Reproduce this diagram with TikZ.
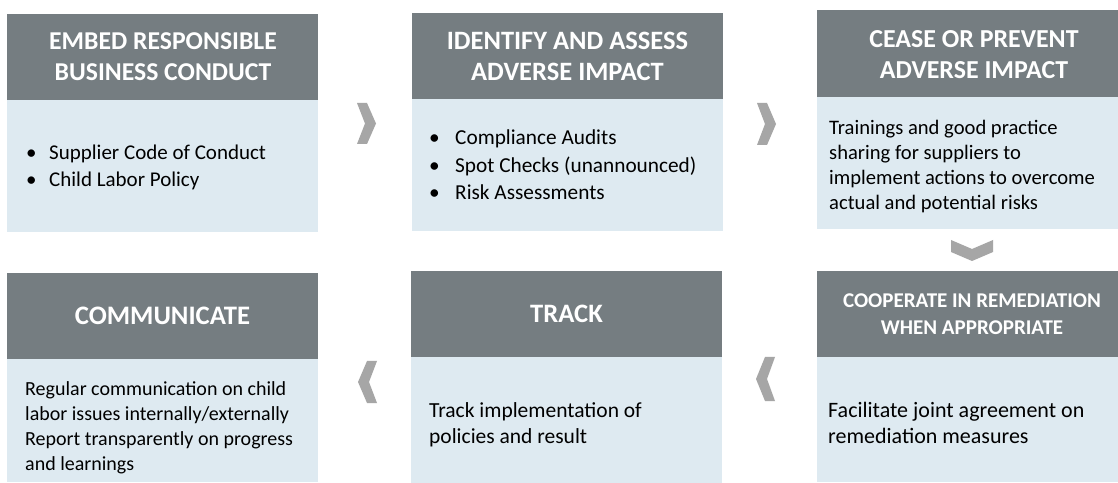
\documentclass[tikz,border=0pt]{standalone}
\usepackage{fontspec}
\setmainfont{Carlito}
\definecolor{hdrgray}{RGB}{117,125,129}
\definecolor{bodyblue}{RGB}{222,234,241}
\definecolor{chevgray}{RGB}{166,166,166}
\begin{document}
\begin{tikzpicture}[x=1bp,y=-1bp,
  hdr/.style={fill=hdrgray, draw=none, inner sep=0, outer sep=0, anchor=north west, minimum height=86bp},
  body/.style={fill=bodyblue, draw=none, inner sep=0, outer sep=0, anchor=north west},
  htext/.style={text=white, font=\bfseries\fontsize{#1}{31bp}\selectfont, align=center, inner sep=0},
  htext/.default=25.7bp,
  htextsmall/.style={text=white, font=\bfseries\fontsize{21bp}{27.3bp}\selectfont, align=center, inner sep=0},
  btext/.style={text=black, align=left, inner sep=0, anchor=base west},
  chev/.style={fill=chevgray, draw=none}]
\useasboundingbox (0,0) rectangle (1118,483);
\fill[white] (0,0) rectangle (1118,483);

% top row
\node[hdr, minimum width=311bp] (h1) at (7,14) {};
\node[body, minimum width=311bp, minimum height=132bp] (b1) at (7,100) {};
\node[hdr, minimum width=311bp] (h2) at (412,13) {};
\node[body, minimum width=311bp, minimum height=132bp] (b2) at (412,99) {};
\node[hdr, minimum width=301bp, minimum height=87bp] (h3) at (817,10) {};
\node[body, minimum width=301bp, minimum height=132bp] (b3) at (817,97) {};

% bottom row
\node[hdr, minimum width=311bp] (h4) at (7,273) {};
\node[body, minimum width=311bp, minimum height=123bp] (b4) at (7,359) {};
\node[hdr, minimum width=311bp] (h5) at (411,271) {};
\node[body, minimum width=311bp, minimum height=126bp] (b5) at (411,357) {};
\node[hdr, minimum width=301bp] (h6) at (817,271) {};
\node[body, minimum width=301bp, minimum height=125bp] (b6) at (817,357) {};

% header texts
\node[htext=25.7bp] (t1) at (163,57) {EMBED RESPONSIBLE\\BUSINESS CONDUCT};
\node[htext=26.5bp] (t2) at (567.5,56) {IDENTIFY AND ASSESS\\ADVERSE IMPACT};
\node[htext=25.9bp] (t3) at (974,55) {CEASE OR PREVENT\\ADVERSE IMPACT};
\node[htext=26.7bp] (t4) at (162.5,316) {COMMUNICATE};
\node[htext=26.6bp] (t5) at (566.5,314) {TRACK};
\node[htextsmall] (t6) at (972,314) {COOPERATE IN REMEDIATION\\WHEN APPROPRIATE};

% body texts (anchor = baseline of last line)
\node[btext, font=\fontsize{21bp}{27.5bp}\selectfont] (x1) at (26,187) {\makebox[23bp][l]{\textbullet}Supplier Code of Conduct\\\makebox[23bp][l]{\textbullet}Child Labor Policy};
\node[btext, font=\fontsize{21.3bp}{27.5bp}\selectfont] (x2) at (429,200) {\makebox[26bp][l]{\textbullet}Compliance Audits\\\makebox[26bp][l]{\textbullet}Spot Checks (unannounced)\\\makebox[26bp][l]{\textbullet}Risk Assessments};
\node[btext, font=\fontsize{20.6bp}{25bp}\selectfont] (x3) at (829,210) {Trainings and good practice\\sharing for suppliers to\\implement actions to overcome\\actual and potential risks};
\node[btext, font=\fontsize{20bp}{24.7bp}\selectfont] (x4) at (25,470) {Regular communication on child\\labor issues internally/externally\\Report transparently on progress\\and learnings};
\node[btext, font=\fontsize{21.5bp}{26bp}\selectfont] (x5) at (429,443) {Track implementation of\\policies and result};
\node[btext, font=\fontsize{22bp}{26bp}\selectfont] (x6) at (828,443) {Facilitate joint agreement on\\remediation measures};

% chevrons
\fill[chev] (357,103) -- (367,103) -- (376,123.5) -- (367,144) -- (357,144) -- (365,123.5) -- cycle;
\fill[chev] (757,103) -- (767,103) -- (776,124) -- (767,145) -- (757,145) -- (765,124) -- cycle;
\fill[chev] (951,240) -- (972,249) -- (993,240) -- (993,252) -- (972,261) -- (951,252) -- cycle;
\fill[chev] (775,357) -- (765,357) -- (756,379) -- (765,401) -- (775,401) -- (767,379) -- cycle;
\fill[chev] (377,361) -- (367,361) -- (358,382) -- (367,403) -- (377,403) -- (369,382) -- cycle;
\end{tikzpicture}
\end{document}
